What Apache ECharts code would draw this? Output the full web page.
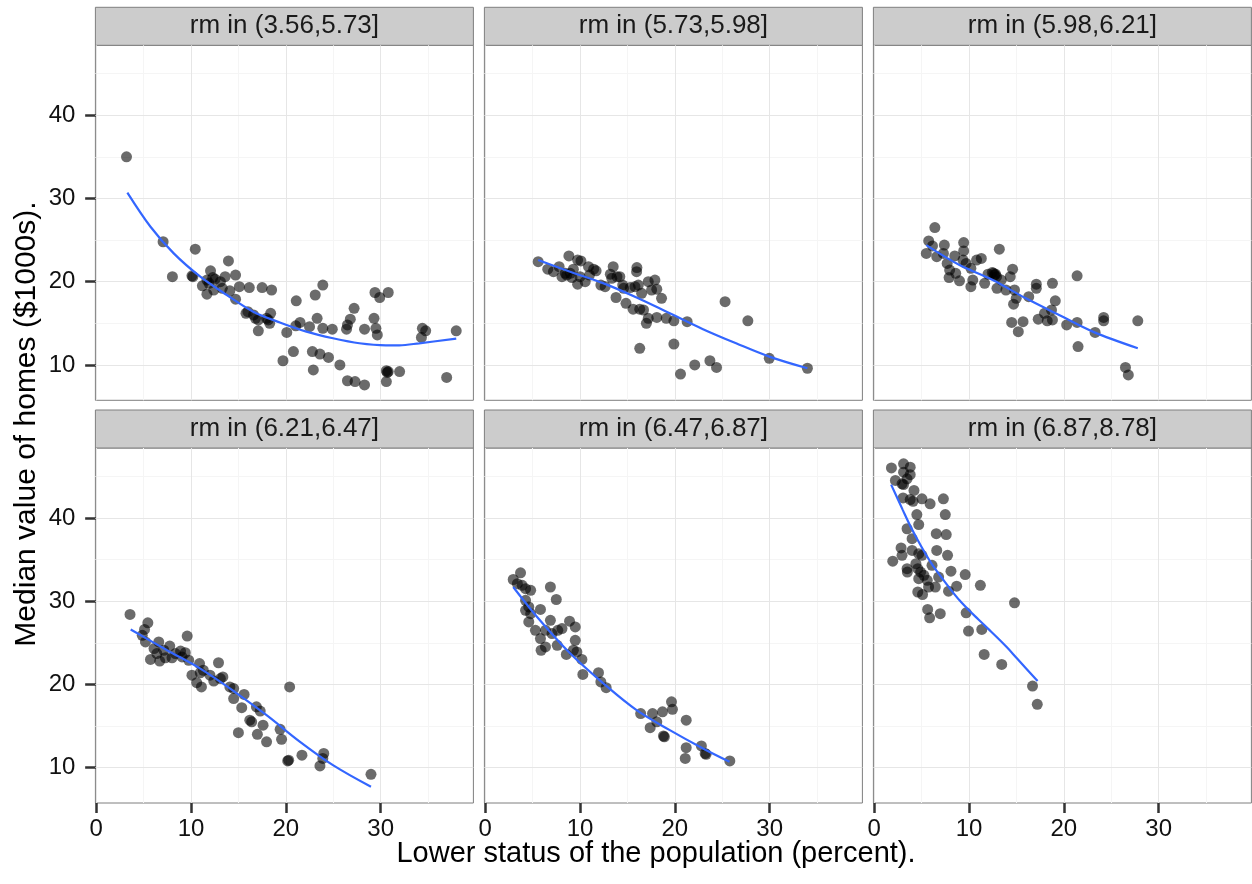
<!DOCTYPE html>
<html><head><meta charset="utf-8">
<script src="https://cdn.jsdelivr.net/npm/echarts@6/dist/echarts.min.js"></script>
<style>html,body{margin:0;padding:0;background:#fff}#c{width:1252px;height:884px}</style>
</head><body><div id="c"></div>
<script>
// ---------- data ----------
const facetLabels = ["rm in (3.56,5.73]", "rm in (5.73,5.98]", "rm in (5.98,6.21]",
                     "rm in (6.21,6.47]", "rm in (6.47,6.87]", "rm in (6.87,8.78]"];
const xTicks = [0, 10, 20, 30];
const yTicks = [10, 20, 30, 40];
const xMinor = [5, 15, 25, 35];
const yMinor = [15, 25, 35, 45];
const xTitle = "Lower status of the population (percent).";
const yTitle = "Median value of homes ($1000s).";

// panel 1: rm in (3.56,5.73]
const lstat1 = [3.2,7.06,8.04,10.1,10.2,10.45,12.06,11.68,11.2,11.68,12.4,12.55,13.1,13.6,13.95,14.7,14.1,14.7,15.1,16.15,17.5,18.5,15.8,16.6,17.1,17.1,18.15,18.3,18.4,17.97,19.7,20.1,20.8,21.1,21.05,21.5,22.5,22.8,22.9,23.1,23.3,23.6,23.9,23.9,24.5,24.9,25.7,26.5,27.3,28.3,26.4,26.5,26.8,27.2,28.3,29.3,29.5,29.65,29.4,29.9,30.8,30.6,30.7,30.8,30.6,32.0,34.3,34.4,34.75,36.96,37.97,12.3,11.9,13.3,16.0,16.8];
const medv1  = [35.0,24.8,20.6,20.7,20.6,23.9,21.3,20.2,19.5,18.5,19.0,20.3,20.0,20.6,22.5,20.8,18.9,17.9,19.4,19.3,19.3,19.0,16.2,16.0,15.4,14.1,15.4,15.0,16.2,15.6,10.5,13.9,11.6,17.7,14.7,15.1,14.6,11.6,9.4,18.4,15.6,11.3,14.4,19.6,10.9,14.3,10.0,8.1,8.0,7.6,14.3,14.8,15.5,16.8,14.3,15.6,14.4,13.6,18.7,18.1,18.7,9.3,9.1,9.2,8.0,9.2,13.3,14.4,14.1,8.5,14.1,20.5,19.8,19.2,16.4,15.6];
const fitX1 = [3.29,5.73,8.18,10.98,13.78,16.57,19.37,22.17,24.97,27.76,30.56,31.96,34.06,37.97];
const fitY1 = [30.7,26.6,23.4,20.6,18.4,16.4,15.1,14.0,13.2,12.6,12.36,12.36,12.6,13.16];

// panel 2: rm in (5.73,5.98]
const lstat2 = [5.59,6.6,7.8,8.83,8.1,8.45,8.97,9.3,9.75,10.1,9.75,10.0,10.55,10.9,11.44,11.7,12.2,12.65,13.2,13.5,13.9,14.2,14.5,13.8,14.85,15.6,15.97,15.8,16.15,16.5,16.3,17.2,17.9,17.55,18.1,18.6,16.7,17.2,17.0,18.1,19.1,19.9,21.3,16.3,19.9,20.6,22.1,23.7,24.4,25.3,27.7,29.96,33.98,8.6,9.15,13.35,14.6,15.3,7.2,11.0,16.0];
const medv2  = [22.4,21.5,21.8,23.1,20.6,21.0,21.0,21.5,22.6,22.5,19.7,20.6,20.0,21.8,21.5,21.3,19.6,19.4,20.9,21.8,20.6,20.6,19.6,18.1,17.4,16.7,21.2,19.4,19.6,18.6,16.7,20.0,20.2,19.0,19.1,18.0,16.6,15.6,15.0,15.7,15.6,15.3,15.2,12.0,12.5,8.9,10.0,10.5,9.7,17.6,15.3,10.8,9.6,20.8,20.5,20.4,19.2,19.3,21.2,20.8,21.7];
const fitX2 = [5.59,8.97,12.5,15.97,19.47,22.97,26.46,29.96,33.98];
const fitY2 = [22.6,21.2,19.8,18.1,16.2,14.3,12.6,11.0,9.6];

// panel 3: rm in (5.98,6.21]
const lstat3 = [5.75,5.5,6.4,6.15,6.6,7.4,7.3,7.7,7.96,7.9,8.5,8.6,9.0,9.44,9.44,9.37,9.7,10.2,10.2,10.4,10.8,11.3,11.65,12.0,12.45,12.7,12.9,13.2,12.95,13.4,13.9,14.35,14.6,14.8,14.98,14.7,14.5,15.2,15.7,16.3,17.1,17.1,17.3,17.96,18.25,18.7,18.8,19.1,18.8,20.3,21.4,21.4,21.5,23.3,24.2,24.2,26.5,26.8,27.8,12.6,12.8];
const medv3  = [24.9,23.4,26.5,24.3,23.0,24.4,23.4,22.2,21.4,20.5,23.1,21.0,20.1,24.7,23.7,22.6,22.2,21.6,19.4,20.2,22.6,22.8,19.8,20.9,21.1,20.8,20.6,23.9,19.2,20.2,19.0,20.6,21.5,19.0,18.0,17.3,15.1,14.0,15.2,18.2,19.7,19.2,15.5,16.2,15.3,16.6,19.8,17.7,15.4,14.8,15.1,20.7,12.2,13.9,15.7,15.3,9.7,8.8,15.3,21.0,20.9];
const fitX3 = [5.5,9.0,12.5,16.0,19.5,23.05,27.8];
const fitY3 = [24.4,22.0,20.2,18.0,16.0,14.0,12.0];

// panel 4: rm in (6.21,6.47]
const lstat4 = [3.57,5.45,5.1,4.86,5.2,6.6,6.1,5.73,6.7,6.4,7.13,7.76,7.3,8.0,8.36,8.9,9.4,9.06,9.6,9.76,10.1,10.6,11.1,10.9,11.3,10.98,12.0,12.4,12.9,13.1,13.36,14.1,14.5,14.5,15.0,15.35,15.6,16.2,16.4,16.9,17.3,17.0,17.6,17.97,19.4,19.55,20.4,20.2,20.3,21.7,23.6,24.0,23.9,28.98];
const medv4  = [28.4,27.4,26.6,25.9,25.1,25.1,24.3,23.0,22.8,23.7,24.1,24.6,23.2,23.2,23.7,24.0,23.8,23.3,25.8,22.9,21.1,20.2,19.7,22.5,21.7,21.4,21.1,20.4,22.6,20.7,20.9,19.7,19.5,18.3,14.2,17.2,18.8,15.7,15.5,17.3,16.8,14.0,15.1,13.1,14.6,13.4,19.7,10.8,10.9,11.5,10.2,11.7,11.1,9.2];
const fitX4 = [3.64,7.48,10.98,14.5,17.97,21.5,24.97,28.98];
const fitY4 = [26.6,24.1,21.9,19.2,16.3,13.1,10.3,7.7];

// panel 5: rm in (6.47,6.87]
const lstat5 = [2.96,3.73,3.4,3.9,4.26,4.8,4.26,4.6,4.26,4.8,5.83,6.88,7.5,4.6,5.3,5.83,5.9,6.36,6.36,6.88,7.05,7.66,7.6,8.1,8.9,9.5,9.5,8.56,9.3,9.67,10.2,10.3,11.95,12.2,12.76,16.4,17.65,18.7,19.65,19.75,18.1,17.4,18.8,18.9,21.2,21.2,21.1,22.8,23.2,23.3,25.8];
const medv5  = [32.6,33.4,32.1,31.9,31.5,31.3,30.1,29.3,28.9,28.5,29.0,31.7,30.2,27.5,26.5,25.5,24.1,24.5,26.5,27.7,26.1,26.5,24.7,26.7,27.6,26.9,25.3,23.6,24.1,23.9,23.0,21.2,21.4,20.3,19.6,16.5,16.5,16.7,17.9,17.0,15.5,14.8,13.8,13.7,15.7,12.4,11.1,12.6,11.7,11.6,10.8];
const fitX5 = [2.96,5.48,8.98,12.48,15.97,19.47,22.97,25.77];
const fitY5 = [31.7,28.1,23.7,20.1,16.9,14.5,12.3,10.7];

// panel 6: rm in (6.87,8.78]
const lstat6 = [1.82,3.1,3.8,3.1,3.8,2.24,2.94,3.1,3.47,4.2,3.05,3.8,4.1,5.04,5.9,7.3,4.5,7.5,4.7,3.47,4.0,6.55,7.6,2.84,2.94,1.96,4.0,4.7,5.04,6.6,7.74,3.47,3.5,4.4,4.6,4.9,5.25,4.7,5.6,6.1,6.8,6.45,5.74,4.6,5.1,7.84,8.1,8.7,9.6,11.2,5.64,5.85,6.97,9.7,9.95,11.35,14.8,11.6,13.45,16.7,17.2];
const medv6  = [46.0,46.5,46.1,45.5,45.2,44.5,44.1,44.0,44.7,43.3,42.4,42.2,42.0,42.3,41.7,42.3,40.4,40.4,39.2,38.7,37.5,38.1,38.0,36.4,35.5,34.8,36.1,35.7,35.5,36.1,35.5,33.9,33.5,34.5,33.9,33.5,33.1,32.7,32.5,34.3,32.9,31.7,31.7,31.1,30.8,31.2,33.6,31.8,33.2,31.9,29.0,28.0,28.5,28.6,26.4,26.6,29.8,23.6,22.4,19.8,17.6];
const fitX6 = [1.79,3.0,4.0,5.0,6.0,7.0,8.0,9.0,10.0,11.0,12.0,13.0,14.0,15.0,16.0,17.23];
const fitY6 = [44.0,41.0,38.6,36.5,34.6,33.0,31.5,30.1,28.9,27.8,26.7,25.6,24.45,23.2,21.95,20.4];

// ---------- chart ----------
const lstatAll = [lstat1, lstat2, lstat3, lstat4, lstat5, lstat6];
const medvAll = [medv1, medv2, medv3, medv4, medv5, medv6];
const fitXAll = [fitX1, fitX2, fitX3, fitX4, fitX5, fitX6];
const fitYAll = [fitY1, fitY2, fitY3, fitY4, fitY5, fitY6];

const FONT = '"Liberation Sans", Arial, Helvetica, sans-serif';
const xRange = [-0.08, 39.78];
const yRange = [5.75, 48.4];
const colLeft = [95.4, 484.4, 873.4];
const rowTop = [45.3, 448];
const W = 378, H = 355, STRIP = 38;

const grids = [], xAxes = [], yAxes = [], series = [], graphics = [];
for (let i = 0; i < 6; i++) {
  const row = Math.floor(i / 3), col = i % 3;
  const L = colLeft[col], T = rowTop[row];
  grids.push({left: L, top: T, width: W, height: H, show: true,
    backgroundColor: '#ffffff', borderColor: '#7f7f7f', borderWidth: 1});
  xAxes.push({gridIndex: i, type: 'value', min: xRange[0], max: xRange[1],
    splitLine: {show: false}, axisLine: {show: false},
    axisTick: {show: row === 1, customValues: xTicks, length: 10, lineStyle: {color: '#333', width: 2.5}},
    axisLabel: {show: row === 1, customValues: xTicks, margin: 14, fontSize: 24, color: '#111', fontFamily: FONT}});
  yAxes.push({gridIndex: i, type: 'value', min: yRange[0], max: yRange[1],
    splitLine: {show: false}, axisLine: {show: false},
    axisTick: {show: col === 0, customValues: yTicks, length: 11, lineStyle: {color: '#333', width: 2.5}},
    axisLabel: {show: col === 0, customValues: yTicks, margin: 20, fontSize: 24, color: '#111', fontFamily: FONT}});

  const ml = [];
  xMinor.forEach(v => ml.push({xAxis: v, lineStyle: {color: '#f5f5f5', width: 1, type: 'solid'}}));
  yMinor.forEach(v => ml.push({yAxis: v, lineStyle: {color: '#f5f5f5', width: 1, type: 'solid'}}));
  xTicks.forEach(v => ml.push({xAxis: v, lineStyle: {color: '#e6e6e6', width: 1, type: 'solid'}}));
  yTicks.forEach(v => ml.push({yAxis: v, lineStyle: {color: '#e6e6e6', width: 1, type: 'solid'}}));
  const fitData = fitXAll[i].map((x, k) => [x, fitYAll[i][k]]);
  series.push({type: 'line', xAxisIndex: i, yAxisIndex: i, data: fitData, z: 1,
    showSymbol: false, silent: true, lineStyle: {opacity: 0, width: 0},
    markLine: {silent: true, symbol: ['none', 'none'], label: {show: false}, z: 1,
      animation: false, emphasis: {disabled: true}, data: ml}});
  series.push({type: 'scatter', xAxisIndex: i, yAxisIndex: i, z: 3,
    data: lstatAll[i].map((x, k) => [x, medvAll[i][k]]),
    symbolSize: 11, itemStyle: {color: '#000', opacity: 0.58}, emphasis: {disabled: true}});
  series.push({type: 'line', xAxisIndex: i, yAxisIndex: i, z: 4, data: fitData,
    smooth: 0.35, showSymbol: false,
    lineStyle: {color: '#3366FF', width: 2.2}, emphasis: {disabled: true}});

  graphics.push({type: 'rect', shape: {x: L, y: T - STRIP, width: W, height: STRIP},
    style: {fill: '#cccccc', stroke: '#7f7f7f', lineWidth: 1}});
  graphics.push({type: 'text', x: L + W / 2, y: T - STRIP / 2,
    style: {text: facetLabels[i], font: '26px ' + FONT, fill: '#1a1a1a',
      align: 'center', verticalAlign: 'middle', textAlign: 'center', textVerticalAlign: 'middle'}});
}
graphics.push({type: 'text', x: 656, y: 854,
  style: {text: xTitle, font: '29px ' + FONT, fill: '#000',
    align: 'center', verticalAlign: 'middle', textAlign: 'center', textVerticalAlign: 'middle'}});
graphics.push({type: 'text', x: 27, y: 424, rotation: Math.PI / 2,
  style: {text: yTitle, font: '30px ' + FONT, fill: '#000',
    align: 'center', verticalAlign: 'middle', textAlign: 'center', textVerticalAlign: 'middle'}});

const chart = echarts.init(document.getElementById('c'), null, {renderer: 'canvas'});
chart.setOption({animation: false, backgroundColor: '#ffffff',
  grid: grids, xAxis: xAxes, yAxis: yAxes, series: series, graphic: graphics});
</script></body></html>
